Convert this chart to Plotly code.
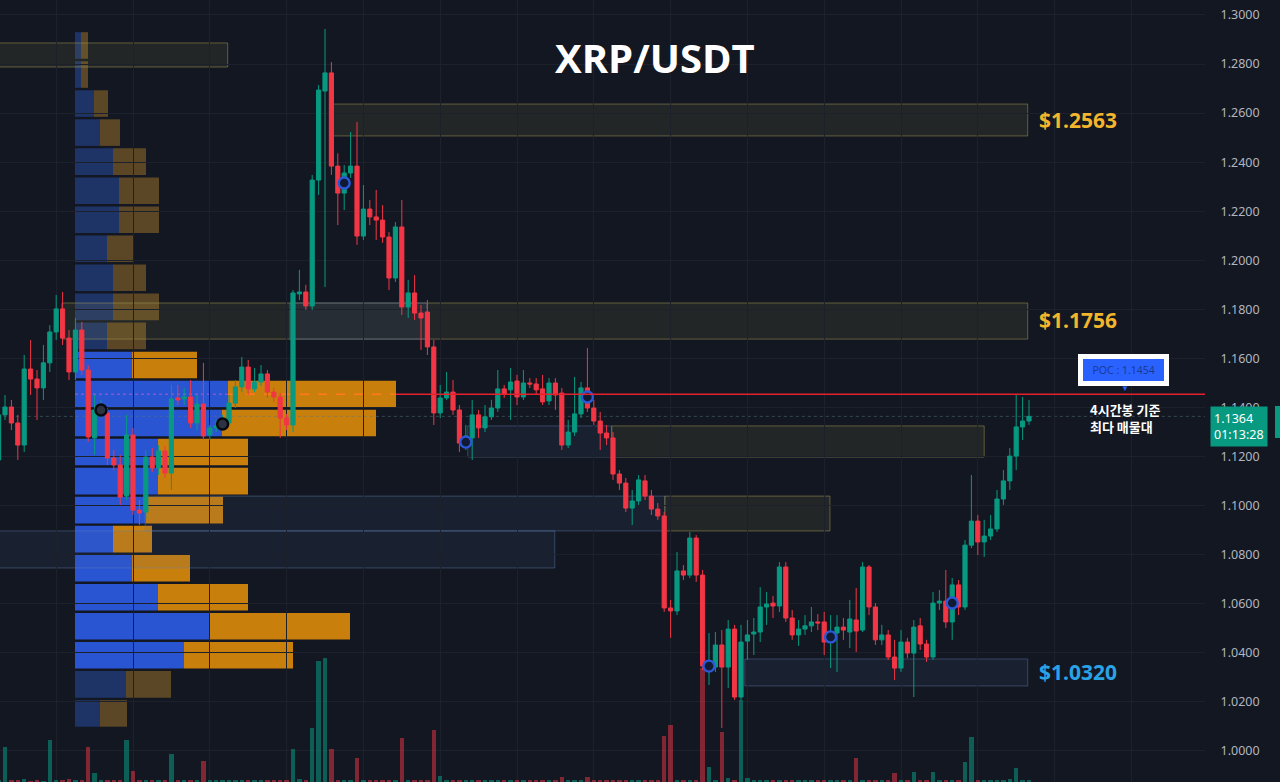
import plotly.graph_objects as go

BG = "#131722"
GRID = "#1d212c"
UP = "#089981"
DOWN = "#f23645"

# ---------------- candle data (4h candles, index = candle number) ----------------
opens = [
    1.1186, 1.1370, 1.1402, 1.1337, 1.1247, 1.1557, 1.1516, 1.1480, 1.1582, 1.1708,
    1.1802, 1.1683, 1.1545, 1.1716, 1.1553, 1.1276, 1.1382, 1.1378, 1.1194, 1.1166,
    1.1039, 1.1288, 1.0982, 1.0974, 1.1198, 1.1154, 1.1223, 1.1133, 1.1439, 1.1435,
    1.1443, 1.1337, 1.1414, 1.1288, 1.1317, 1.1325, 1.1337, 1.1418, 1.1484, 1.1565,
    1.1476, 1.1504, 1.1537, 1.1463, 1.1443, 1.1357, 1.1329, 1.1863, 1.1871, 1.1814,
    1.2327, 1.2690, 1.2764, 1.2384, 1.2274, 1.2356, 1.2384, 1.2099, 1.2209, 1.2177,
    1.2164, 1.2095, 1.1928, 1.2136, 1.1810, 1.1867, 1.1785, 1.1789, 1.1647, 1.1378,
    1.1439, 1.1463, 1.1390, 1.1260, 1.1276, 1.1370, 1.1317, 1.1362, 1.1398, 1.1476,
    1.1472, 1.1508, 1.1443, 1.1500, 1.1496, 1.1476, 1.1427, 1.1500, 1.1459, 1.1247,
    1.1300, 1.1374, 1.1480, 1.1398, 1.1345, 1.1296, 1.1276, 1.1129, 1.1092, 1.0990,
    1.1019, 1.1101, 1.1039, 1.0986, 1.0958, 1.0583, 1.0571, 1.0734, 1.0717, 1.0868,
    1.0717, 1.0338, 1.0342, 1.0432, 1.0342, 1.0497, 1.0220, 1.0448, 1.0477, 1.0485,
    1.0587, 1.0603, 1.0591, 1.0750, 1.0542, 1.0473, 1.0497, 1.0510, 1.0526, 1.0526,
    1.0448, 1.0481, 1.0505, 1.0485, 1.0534, 1.0493, 1.0750, 1.0587, 1.0453, 1.0473,
    1.0383, 1.0338, 1.0444, 1.0399, 1.0510, 1.0436, 1.0383, 1.0603, 1.0611, 1.0526,
    1.0677, 1.0587, 1.0839, 1.0937, 1.0852, 1.0876, 1.0905, 1.1027, 1.1101, 1.1202,
    1.1321, 1.1345,
]
highs = [
    1.1410, 1.1451, 1.1431, 1.1370, 1.1614, 1.1675, 1.1553, 1.1655, 1.1736, 1.1859,
    1.1871, 1.1716, 1.1765, 1.1749, 1.1573, 1.1451, 1.1431, 1.1398, 1.1227, 1.1207,
    1.1370, 1.1317, 1.1023, 1.1227, 1.1235, 1.1247, 1.1243, 1.1492, 1.1492, 1.1480,
    1.1512, 1.1451, 1.1582, 1.1329, 1.1349, 1.1370, 1.1451, 1.1512, 1.1606, 1.1594,
    1.1561, 1.1573, 1.1553, 1.1480, 1.1459, 1.1374, 1.1879, 1.1961, 1.1900, 1.2348,
    1.2715, 1.2943, 1.2808, 1.2436, 1.2388, 1.2523, 1.2564, 1.2307, 1.2246, 1.2287,
    1.2225, 1.2115, 1.2156, 1.2246, 1.1920, 1.1940, 1.1818, 1.1838, 1.1675, 1.1492,
    1.1545, 1.1512, 1.1410, 1.1329, 1.1431, 1.1390, 1.1410, 1.1431, 1.1553, 1.1492,
    1.1561, 1.1533, 1.1553, 1.1520, 1.1520, 1.1533, 1.1520, 1.1520, 1.1480, 1.1349,
    1.1525, 1.1504, 1.1643, 1.1431, 1.1382, 1.1329, 1.1300, 1.1145, 1.1113, 1.1064,
    1.1125, 1.1125, 1.1064, 1.1011, 1.0974, 1.0616, 1.0811, 1.0758, 1.0893, 1.0880,
    1.0738, 1.0481, 1.0485, 1.0493, 1.0534, 1.0514, 1.0514, 1.0534, 1.0542, 1.0668,
    1.0648, 1.0632, 1.0770, 1.0770, 1.0575, 1.0534, 1.0554, 1.0587, 1.0558, 1.0567,
    1.0554, 1.0554, 1.0542, 1.0616, 1.0664, 1.0770, 1.0758, 1.0603, 1.0514, 1.0493,
    1.0453, 1.0493, 1.0461, 1.0534, 1.0542, 1.0453, 1.0648, 1.0656, 1.0738, 1.0705,
    1.0697, 1.0860, 1.1125, 1.0962, 1.0942, 1.0962, 1.1064, 1.1145, 1.1235, 1.1451,
    1.1443, 1.1431,
]
lows = [
    1.1145, 1.1349, 1.1308, 1.1186, 1.1219, 1.1451, 1.1349, 1.1431, 1.1545, 1.1675,
    1.1655, 1.1512, 1.1512, 1.1533, 1.1260, 1.1207, 1.1357, 1.1166, 1.1145, 1.1003,
    1.1023, 1.0962, 1.0921, 1.0950, 1.1137, 1.1125, 1.1113, 1.1064, 1.1410, 1.1410,
    1.1317, 1.1308, 1.1268, 1.1268, 1.1300, 1.1308, 1.1325, 1.1398, 1.1463, 1.1451,
    1.1463, 1.1488, 1.1439, 1.1423, 1.1276, 1.1308, 1.1300, 1.1838, 1.1798, 1.1798,
    1.2266, 1.1891, 1.2348, 1.2144, 1.2205, 1.2336, 1.2063, 1.2083, 1.2144, 1.2083,
    1.2071, 1.1879, 1.1912, 1.1777, 1.1765, 1.1757, 1.1635, 1.1614, 1.1329, 1.1357,
    1.1431, 1.1370, 1.1219, 1.1227, 1.1186, 1.1276, 1.1300, 1.1349, 1.1382, 1.1439,
    1.1349, 1.1410, 1.1431, 1.1480, 1.1451, 1.1410, 1.1410, 1.1390, 1.1227, 1.1235,
    1.1284, 1.1357, 1.1382, 1.1329, 1.1227, 1.1247, 1.1105, 1.1064, 1.0974, 1.0921,
    1.1003, 1.1023, 1.0962, 1.0942, 1.0567, 1.0461, 1.0554, 1.0697, 1.0705, 1.0689,
    1.0330, 1.0269, 1.0322, 1.0094, 1.0257, 1.0208, 1.0208, 1.0371, 1.0391, 1.0444,
    1.0514, 1.0542, 1.0567, 1.0526, 1.0453, 1.0428, 1.0473, 1.0485, 1.0493, 1.0391,
    1.0338, 1.0322, 1.0453, 1.0420, 1.0404, 1.0485, 1.0554, 1.0432, 1.0432, 1.0371,
    1.0289, 1.0322, 1.0379, 1.0220, 1.0412, 1.0363, 1.0371, 1.0575, 1.0501, 1.0453,
    1.0554, 1.0575, 1.0827, 1.0799, 1.0791, 1.0860, 1.0893, 1.1003, 1.1064, 1.1145,
    1.1268, 1.1329,
]
closes = [
    1.1370, 1.1402, 1.1337, 1.1247, 1.1557, 1.1516, 1.1480, 1.1582, 1.1708, 1.1802,
    1.1683, 1.1545, 1.1716, 1.1553, 1.1280, 1.1390, 1.1398, 1.1194, 1.1166, 1.1035,
    1.1288, 1.0982, 1.0970, 1.1198, 1.1154, 1.1223, 1.1133, 1.1435, 1.1431, 1.1443,
    1.1337, 1.1414, 1.1284, 1.1317, 1.1325, 1.1349, 1.1418, 1.1484, 1.1565, 1.1476,
    1.1504, 1.1537, 1.1463, 1.1443, 1.1357, 1.1329, 1.1867, 1.1871, 1.1814, 1.2327,
    1.2694, 1.2764, 1.2384, 1.2274, 1.2356, 1.2384, 1.2099, 1.2209, 1.2177, 1.2164,
    1.2095, 1.1928, 1.2136, 1.1810, 1.1867, 1.1785, 1.1765, 1.1647, 1.1378, 1.1439,
    1.1463, 1.1390, 1.1255, 1.1284, 1.1370, 1.1317, 1.1362, 1.1398, 1.1476, 1.1455,
    1.1504, 1.1443, 1.1500, 1.1496, 1.1472, 1.1423, 1.1500, 1.1451, 1.1247, 1.1300,
    1.1374, 1.1480, 1.1398, 1.1345, 1.1296, 1.1276, 1.1129, 1.1092, 1.0990, 1.1019,
    1.1105, 1.1039, 1.0986, 1.0958, 1.0583, 1.0571, 1.0734, 1.0717, 1.0868, 1.0717,
    1.0346, 1.0355, 1.0432, 1.0342, 1.0497, 1.0220, 1.0444, 1.0473, 1.0485, 1.0587,
    1.0599, 1.0591, 1.0750, 1.0542, 1.0473, 1.0497, 1.0510, 1.0526, 1.0522, 1.0444,
    1.0481, 1.0505, 1.0493, 1.0538, 1.0489, 1.0750, 1.0587, 1.0453, 1.0473, 1.0383,
    1.0338, 1.0444, 1.0399, 1.0505, 1.0436, 1.0383, 1.0603, 1.0611, 1.0526, 1.0677,
    1.0587, 1.0839, 1.0937, 1.0852, 1.0876, 1.0905, 1.1027, 1.1101, 1.1202, 1.1321,
    1.1345, 1.1364,
]
# volume in millions XRP
volumes = [
    0.8, 17.5, 0.8, 0.8, 1.5, 0.5, 0.8, 0.5, 21.0, 0.8,
    0.8, 1.5, 0.8, 0.8, 17.5, 4.5, 0.8, 0.8, 0.8, 0.8,
    21.0, 5.5, 0.8, 0.8, 0.8, 0.8, 0.8, 14.0, 0.8, 0.8,
    0.8, 0.8, 10.5, 0.8, 0.8, 0.8, 0.8, 0.8, 0.8, 0.8,
    0.8, 0.8, 0.8, 0.8, 0.8, 0.8, 16.5, 1.5, 0.8, 27.0,
    60.5, 62.0, 16.5, 0.8, 0.8, 0.8, 12.0, 0.8, 0.8, 0.8,
    0.8, 0.8, 0.8, 22.0, 0.8, 0.8, 0.8, 0.8, 26.0, 3.0,
    0.8, 0.8, 0.8, 0.8, 0.8, 0.8, 0.8, 0.8, 0.8, 0.8,
    0.8, 0.8, 0.8, 0.8, 0.8, 0.8, 0.8, 0.8, 2.5, 0.8,
    0.8, 0.8, 2.5, 0.8, 0.8, 0.8, 0.8, 0.8, 0.8, 0.8,
    0.8, 0.8, 0.8, 1.0, 23.0, 28.5, 0.8, 0.8, 0.8, 0.8,
    57.0, 7.5, 0.8, 25.0, 2.0, 0.8, 41.0, 2.0, 0.8, 0.8,
    0.8, 0.8, 0.8, 0.8, 0.8, 0.8, 0.8, 0.8, 0.8, 0.8,
    0.8, 1.0, 0.8, 0.8, 12.0, 0.8, 0.8, 0.8, 0.8, 0.8,
    4.5, 0.8, 0.8, 5.0, 0.8, 0.8, 5.0, 0.8, 0.8, 0.8,
    0.8, 10.0, 22.5, 0.8, 0.8, 0.8, 0.8, 0.8, 1.5, 7.0,
    0.8, 0.8,
]

# pivot markers
marker_idx = [16, 35, 54, 73, 92, 111, 130, 149]
marker_price = [1.1390, 1.1333, 1.2315, 1.1259, 1.1443, 1.0346, 1.0465, 1.0603]

# volume profile (bottom row first), millions: buy (blue) / sell (orange)
profile_low = 1.0094
profile_step = 0.011837
profile_buy = [12.5, 25.5, 54.5, 67.0, 41.5, 28.5, 19.0, 35.5, 41.5, 41.5, 73.5, 76.5,
               28.5, 16.0, 19.0, 19.0, 16.0, 22.0, 22.0, 19.0, 12.5, 9.5, 3.0, 3.0]
profile_sell = [13.5, 22.5, 54.5, 70.5, 45.0, 29.0, 19.5, 38.5, 45.0, 45.0, 77.0, 84.0,
                32.5, 19.5, 23.0, 16.5, 13.0, 20.0, 20.0, 16.5, 10.0, 7.0, 3.5, 3.5]
value_area_rows = (2, 12)
poc_price = 1.1454
last_price = 1.1364
countdown = "01:13:28"

# supply / demand zones: (kind, from candle, to candle, low price, high price)
zones = [
    ("y", -2.0, 35.8, 1.2788, 1.2886),
    ("y", 51.8, 160.8, 1.2507, 1.2637),
    ("y", 9.9, 160.8, 1.1679, 1.1826),
    ("b", 45.5, 66.9, 1.1679, 1.1826),
    ("b", 73.3, 95.8, 1.1198, 1.1325),
    ("y", 95.8, 154.0, 1.1198, 1.1325),
    ("b", 22.9, 104.1, 1.0897, 1.1039),
    ("y", 104.1, 129.9, 1.0897, 1.1039),
    ("b", -2.0, 86.9, 1.0746, 1.0897),
    ("b", 116.6, 160.8, 1.0265, 1.0375),
]
level_labels = [("$1.2563", 1.2572, "#f2b52c"),
                ("$1.1756", 1.1758, "#f2b52c"),
                ("$1.0320", 1.0322, "#2aa3e6")]

tick_vals = [1.00, 1.02, 1.04, 1.06, 1.08, 1.10, 1.12, 1.14, 1.16, 1.18,
             1.20, 1.22, 1.24, 1.26, 1.28, 1.30]
tick_text = ["%.4f" % v for v in tick_vals]

# ---------------- figure ----------------
idx = list(range(len(opens)))
vol_colors = ["rgba(8,153,129,0.55)" if c >= o else "rgba(242,54,69,0.5)"
              for o, c in zip(opens, closes)]

fig = go.Figure()
fig.add_trace(go.Bar(x=idx, y=volumes, marker=dict(color=vol_colors, line=dict(width=0)),
                     width=0.7, xaxis="x", yaxis="y", hoverinfo="skip"))
fig.add_trace(go.Candlestick(
    x=idx, open=opens, high=highs, low=lows, close=closes,
    xaxis="x", yaxis="y2", whiskerwidth=0,
    increasing=dict(line=dict(color=UP, width=1), fillcolor=UP),
    decreasing=dict(line=dict(color=DOWN, width=1), fillcolor=DOWN),
    hoverinfo="skip"))
fig.add_trace(go.Scatter(
    x=marker_idx, y=marker_price, mode="markers", xaxis="x", yaxis="y2",
    marker=dict(size=11,
                color=["#2d3240", "#2d3240"] + ["#111a33"] * (len(marker_idx) - 2),
                line=dict(width=2.4, color=["#07090f", "#07090f"] + ["#2b58d8"] * (len(marker_idx) - 2))),
    hoverinfo="skip"))
fig.add_trace(go.Scatter(x=[0], y=[poc_price], mode="markers", xaxis="x2", yaxis="y2",
                         marker=dict(opacity=0), hoverinfo="skip"))

shapes = []
inset = 0.0005
for i, (b, s) in enumerate(zip(profile_buy, profile_sell)):
    lo = profile_low + i * profile_step + inset
    hi = profile_low + (i + 1) * profile_step - inset
    bright = value_area_rows[0] <= i <= value_area_rows[1]
    cb = "#2a55d2" if bright else "#1e3467"
    co = "#c97f0b" if bright else "#5b4725"
    shapes.append(dict(type="rect", xref="x2", yref="y2", x0=0, x1=b, y0=lo, y1=hi,
                       fillcolor=cb, line=dict(width=0), layer="below"))
    shapes.append(dict(type="rect", xref="x2", yref="y2", x0=b, x1=b + s, y0=lo, y1=hi,
                       fillcolor=co, line=dict(width=0), layer="below"))

poc_row = max(range(len(profile_buy)), key=lambda k: profile_buy[k] + profile_sell[k])
poc_b = profile_buy[poc_row]
poc_total = profile_buy[poc_row] + profile_sell[poc_row]
shapes.append(dict(type="line", xref="x2", yref="y2", x0=0, x1=poc_b, y0=poc_price, y1=poc_price,
                   line=dict(color="rgba(190,90,200,0.6)", width=1.5, dash="dot"), layer="below"))
shapes.append(dict(type="line", xref="x2", yref="y2", x0=poc_b, x1=poc_total, y0=poc_price, y1=poc_price,
                   line=dict(color="#ff7b1a", width=1.5, dash="dash"), layer="below"))

for kind, x0, x1, p0, p1 in zones:
    if kind == "y":
        fc, lc = "rgba(170,160,85,0.11)", "rgba(165,155,85,0.5)"
    else:
        fc, lc = "rgba(70,100,160,0.12)", "rgba(100,130,180,0.42)"
    shapes.append(dict(type="rect", xref="x", yref="y2", x0=x0, x1=x1, y0=p0, y1=p1,
                       fillcolor=fc, line=dict(color=lc, width=1), layer="below"))

shapes.append(dict(type="line", xref="x", yref="y2", x0=-2, x1=200, y0=last_price, y1=last_price,
                   line=dict(color="rgba(90,120,130,0.5)", width=1, dash="dot"), layer="below"))
shapes.append(dict(type="line", xref="x2", yref="y2", x0=poc_total, x1=565, y0=poc_price, y1=poc_price,
                   line=dict(color="#e3202c", width=1.6), layer="above"))

annotations = [
    dict(text="<b>XRP/USDT</b>", xref="paper", yref="paper", x=0.5436, y=0.926,
         xanchor="center", yanchor="middle", showarrow=False,
         font=dict(family="Open Sans", size=40, color="#ffffff")),
]
for txt, p, col in level_labels:
    annotations.append(dict(text="<b>%s</b>" % txt, xref="paper", yref="y2", x=0.8606, y=p,
                            xanchor="left", yanchor="middle", showarrow=False,
                            font=dict(family="Noto Sans", size=21, color=col)))
annotations.append(dict(text="  POC : %.4f  " % poc_price, xref="paper", yref="y2", x=0.932, y=poc_price,
                        yshift=24, xanchor="center", yanchor="middle", showarrow=False,
                        font=dict(family="Noto Sans", size=10.5, color="#1b3a94"),
                        bgcolor="#2962ff", bordercolor="#ffffff", borderwidth=5, borderpad=4))
annotations.append(dict(text="▼", xref="paper", yref="y2", x=0.9336, y=poc_price, yshift=7,
                        xanchor="center", yanchor="middle", showarrow=False,
                        font=dict(size=8, color="#2962ff")))
annotations.append(dict(text="<b>4시간봉 기준</b><br><b>최다 매물대</b>", xref="paper", yref="y2",
                        x=0.9025, y=poc_price,
                        yshift=-24, xanchor="left", yanchor="middle", showarrow=False, align="left",
                        font=dict(family="Noto Sans CJK KR", size=13, color="#ffffff")))
annotations.append(dict(text="%.4f<br>%s" % (last_price, countdown), xref="paper", yref="y2",
                        x=1.0286, y=last_price, yshift=10, xanchor="center", yanchor="top",
                        showarrow=False, align="left",
                        font=dict(family="Noto Sans", size=12.5, color="#ffffff"),
                        bgcolor=UP, borderpad=3))
shapes.append(dict(type="rect", xref="paper", yref="paper", x0=1.0581, x1=1.07,
                   y0=1 - 438 / 782, y1=1 - 406 / 782, fillcolor=UP, line=dict(width=0), layer="above"))

fig.update_layout(
    width=1280, height=782, margin=dict(l=0, r=75, t=0, b=0),
    paper_bgcolor=BG, plot_bgcolor=BG, showlegend=False,
    boxgap=0.35, boxgroupgap=0, bargap=0,
    shapes=shapes, annotations=annotations,
    xaxis=dict(range=[0.219, 188.5], showgrid=True, gridcolor=GRID, gridwidth=1,
               tick0=9, dtick=12, showticklabels=False, zeroline=False, showline=False,
               rangeslider=dict(visible=False), ticks=""),
    xaxis2=dict(overlaying="x", range=[-37.5, 565], visible=False),
    yaxis=dict(range=[0, 391], visible=False),
    yaxis2=dict(overlaying="y", side="right", range=[0.98736, 1.30611],
                tickvals=tick_vals, ticktext=tick_text, showgrid=True, gridcolor=GRID,
                ticks="outside", ticklen=12, tickcolor="rgba(0,0,0,0)", zeroline=False,
                showline=False, tickfont=dict(family="Noto Sans", size=12.5, color="#b2b5be")),
)

fig.write_html("out.html")
